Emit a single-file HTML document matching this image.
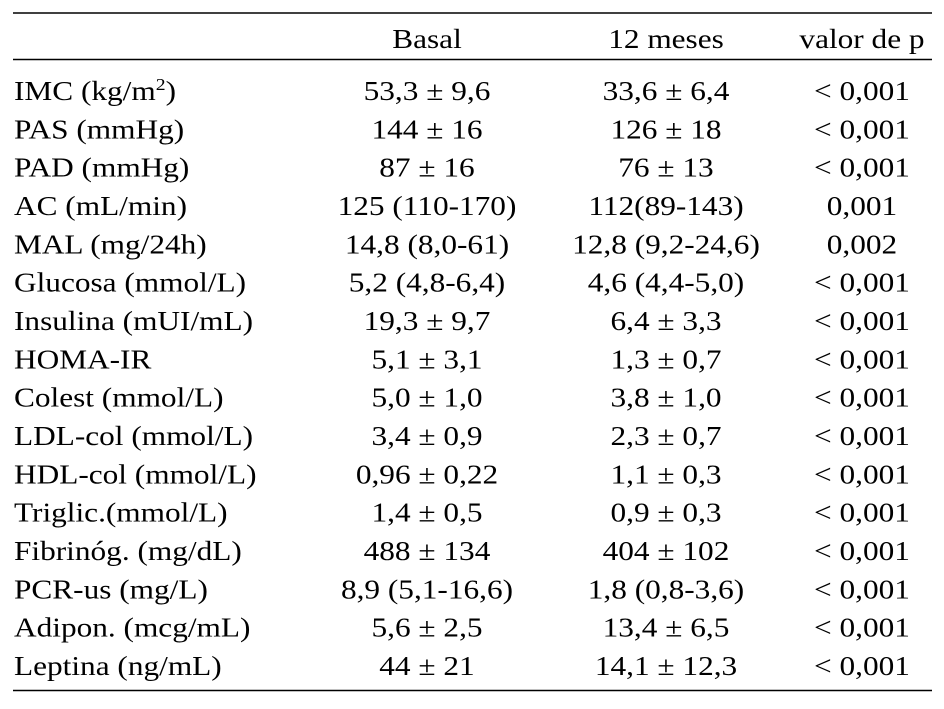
<!DOCTYPE html>
<html><head><meta charset="utf-8"><style>
html,body{margin:0;padding:0;background:#fff;}
svg{display:block;font-family:"Liberation Serif",serif;}
</style></head><body>
<svg id="t" width="944" height="709" viewBox="0 0 944 709">
<line x1="13" y1="13" x2="932" y2="13" stroke="#000" stroke-width="1.6"/>
<line x1="13" y1="59.5" x2="932" y2="59.5" stroke="#000" stroke-width="1.6"/>
<line x1="13" y1="690.5" x2="932" y2="690.5" stroke="#000" stroke-width="1.6"/>
<g font-size="27" text-anchor="middle">
<text x="0" y="48" transform="translate(427,0) scale(1.16,1)">Basal</text>
<text x="0" y="48" transform="translate(666,0) scale(1.16,1)">12 meses</text>
<text x="0" y="48" transform="translate(862,0) scale(1.16,1)">valor de p</text>
</g>
<g id="body" font-size="27"></g>
</svg>
<script>
const labels=["IMC (kg/m²)","PAS (mmHg)","PAD (mmHg)","AC (mL/min)","MAL (mg/24h)","Glucosa (mmol/L)","Insulina (mUI/mL)","HOMA-IR","Colest (mmol/L)","LDL-col (mmol/L)","HDL-col (mmol/L)","Triglic.(mmol/L)","Fibrinóg. (mg/dL)","PCR-us (mg/L)","Adipon. (mcg/mL)","Leptina (ng/mL)"];
const basal=["53,3 ± 9,6","144 ± 16","87 ± 16","125 (110-170)","14,8 (8,0-61)","5,2 (4,8-6,4)","19,3 ± 9,7","5,1 ± 3,1","5,0 ± 1,0","3,4 ± 0,9","0,96 ± 0,22","1,4 ± 0,5","488 ± 134","8,9 (5,1-16,6)","5,6 ± 2,5","44 ± 21"];
const meses=["33,6 ± 6,4","126 ± 18","76 ± 13","112(89-143)","12,8 (9,2-24,6)","4,6 (4,4-5,0)","6,4 ± 3,3","1,3 ± 0,7","3,8 ± 1,0","2,3 ± 0,7","1,1 ± 0,3","0,9 ± 0,3","404 ± 102","1,8 (0,8-3,6)","13,4 ± 6,5","14,1 ± 12,3"];
const pval=["< 0,001","< 0,001","< 0,001","0,001","0,002","< 0,001","< 0,001","< 0,001","< 0,001","< 0,001","< 0,001","< 0,001","< 0,001","< 0,001","< 0,001","< 0,001"];
const NS="http://www.w3.org/2000/svg";
const g=document.getElementById('body');
function txt(x,y,s,anchor,name){
  const t=document.createElementNS(NS,'text');
  t.setAttribute('x',0);t.setAttribute('y',y);t.setAttribute('text-anchor',anchor);
  t.setAttribute('transform','translate('+x+',0) scale(1.16,1)');
  
  
  if(s.indexOf('²')>=0){
    const p=s.split('²');
    t.appendChild(document.createTextNode(p[0]));
    const ts=document.createElementNS(NS,'tspan');ts.setAttribute('font-size','17');ts.setAttribute('dy','-10');ts.textContent='2';
    t.appendChild(ts);
    const ts2=document.createElementNS(NS,'tspan');ts2.setAttribute('dy','10');ts2.textContent=p[1];
    t.appendChild(ts2);
  } else t.textContent=s;
  g.appendChild(t);
}
labels.forEach((l,i)=>{
  const y=100+38.33*i;
  txt(14,y,l,'start','row-label');
  txt(427,y,basal[i],'middle','basal-value');
  txt(666,y,meses[i],'middle','12-meses-value');
  txt(862,y,pval[i],'middle','p-value');
});
</script>
</body></html>
